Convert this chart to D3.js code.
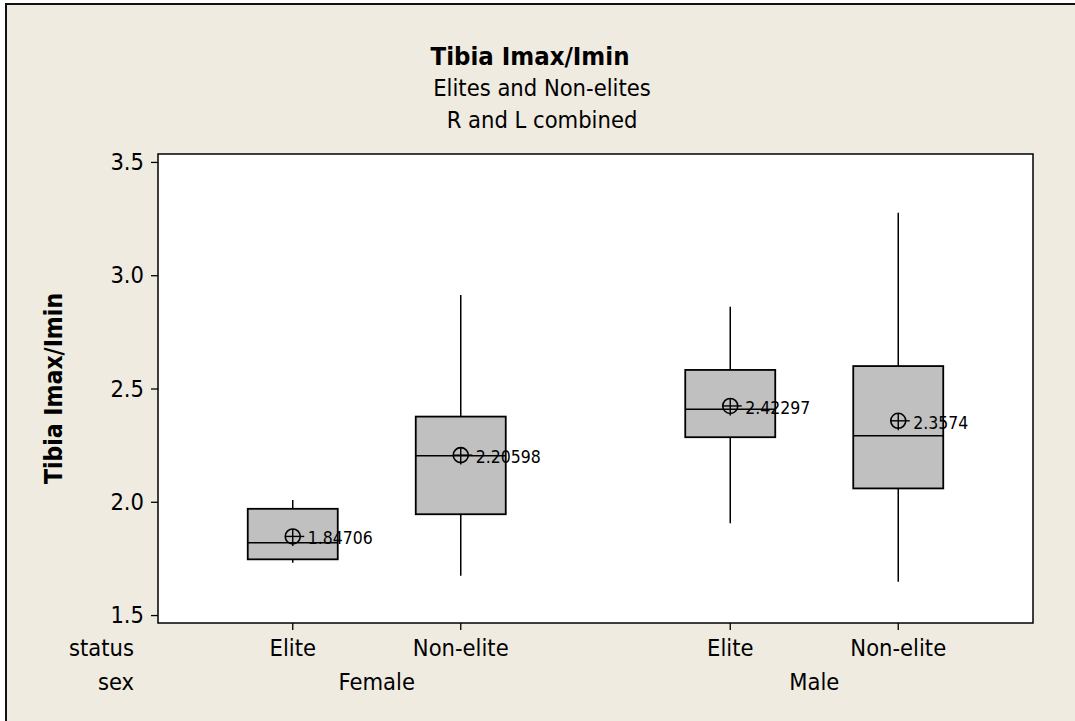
<!doctype html>
<html lang="en">
<head>
<meta charset="utf-8">
<title>Tibia Imax/Imin</title>
<style>
  body { margin: 0; background: #fff; }
  svg text { font-family: "DejaVu Sans Condensed", "DejaVu Sans", sans-serif; font-stretch: condensed; fill: #000; }
</style>
</head>
<body>
<svg id="chart" width="1075" height="721"></svg>
<script src="https://d3js.org/d3.v7.min.js"></script>
<script>

  // values
  var sexGroups = ["Female", "Male"];
  var statusGroups = ["Elite", "Non-elite"];
  var sexOf = ["Female", "Female", "Male", "Male"];
  var statusOf = ["Elite", "Non-elite", "Elite", "Non-elite"];
  var whiskerLow = [1.731, 1.674, 1.905, 1.647];
  var q1 = [1.746, 1.945, 2.285, 2.059];
  var median = [1.819, 2.203, 2.408, 2.292];
  var q3 = [1.969, 2.376, 2.582, 2.599];
  var whiskerHigh = [2.008, 2.913, 2.861, 3.276];
  var means = [1.84706, 2.20598, 2.42297, 2.3574];
  var meanLabels = ["1.84706", "2.20598", "2.42297", "2.3574"];
  var yTicks = [1.5, 2.0, 2.5, 3.0, 3.5];

  var titleLines = ["Tibia Imax/Imin", "Elites and Non-elites", "R and L combined"];
  var yLabel = "Tibia Imax/Imin";

  var svg = d3.select("#chart");

  var plot = { left: 158, right: 1033, top: 154, bottom: 623 };

  // figure region
  svg.append("rect")
    .attr("x", 6).attr("y", 4)
    .attr("width", 1100).attr("height", 740)
    .attr("fill", "#efebe1")
    .attr("stroke", "#111")
    .attr("stroke-width", 2);

  // plot region
  svg.append("rect")
    .attr("x", plot.left).attr("y", plot.top)
    .attr("width", plot.right - plot.left)
    .attr("height", plot.bottom - plot.top)
    .attr("fill", "#fff");

  var y = d3.scaleLinear()
    .domain([1.465, 3.535])
    .range([plot.bottom, plot.top]);

  var xSex = d3.scalePoint()
    .domain(sexGroups)
    .range([plot.left, plot.right])
    .padding(0.5);

  var boxStep = 168;
  var xStatus = d3.scalePoint()
    .domain(statusGroups)
    .range([-boxStep / 2, boxStep / 2]);

  function xPos(i) { return xSex(sexOf[i]) + xStatus(statusOf[i]); }

  var halfW = 45;
  var idx = d3.range(sexOf.length);

  // whiskers
  var g = svg.append("g");
  g.selectAll("line.whisk-hi")
    .data(idx).join("line")
    .attr("class", "whisk-hi")
    .attr("x1", xPos).attr("x2", xPos)
    .attr("y1", i => y(q3[i])).attr("y2", i => y(whiskerHigh[i]))
    .attr("stroke", "#000").attr("stroke-width", 1.5);

  g.selectAll("line.whisk-lo")
    .data(idx).join("line")
    .attr("class", "whisk-lo")
    .attr("x1", xPos).attr("x2", xPos)
    .attr("y1", i => y(q1[i])).attr("y2", i => y(whiskerLow[i]))
    .attr("stroke", "#000").attr("stroke-width", 1.5);

  // boxes
  g.selectAll("rect.box")
    .data(idx).join("rect")
    .attr("class", "box")
    .attr("x", i => xPos(i) - halfW)
    .attr("y", i => y(q3[i]))
    .attr("width", halfW * 2)
    .attr("height", i => y(q1[i]) - y(q3[i]))
    .attr("fill", "#c0c0c0")
    .attr("stroke", "#000")
    .attr("stroke-width", 1.8);

  g.selectAll("line.median")
    .data(idx).join("line")
    .attr("class", "median")
    .attr("x1", i => xPos(i) - halfW).attr("x2", i => xPos(i) + halfW)
    .attr("y1", i => y(median[i])).attr("y2", i => y(median[i]))
    .attr("stroke", "#000").attr("stroke-width", 1.5);

  // mean symbols
  var r = 7.5;
  var mean = g.selectAll("g.mean")
    .data(idx).join("g")
    .attr("class", "mean")
    .attr("transform", i => "translate(" + xPos(i) + "," + y(means[i]) + ")");

  mean.append("circle")
    .attr("r", r).attr("fill", "none")
    .attr("stroke", "#000").attr("stroke-width", 1.6);
  mean.append("line")
    .attr("x1", -r).attr("x2", r + 4).attr("y1", 0).attr("y2", 0)
    .attr("stroke", "#000").attr("stroke-width", 1.4);
  mean.append("line")
    .attr("x1", 0).attr("x2", 0).attr("y1", -r).attr("y2", r + 2)
    .attr("stroke", "#000").attr("stroke-width", 1.4);
  mean.append("text")
    .attr("x", 15).attr("y", 8)
    .attr("font-size", 17.5)
    .text(i => meanLabels[i]);

  // plot border
  svg.append("rect")
    .attr("x", plot.left).attr("y", plot.top)
    .attr("width", plot.right - plot.left)
    .attr("height", plot.bottom - plot.top)
    .attr("fill", "none")
    .attr("stroke", "#000")
    .attr("stroke-width", 1.5);

  // y axis
  var yAxis = svg.append("g")
    .attr("transform", "translate(" + plot.left + ",0)")
    .call(d3.axisLeft(y).tickValues(yTicks).tickFormat(d3.format(".1f")).tickSize(7).tickPadding(7));
  yAxis.select(".domain").remove();
  yAxis.selectAll("line").attr("stroke", "#000").attr("stroke-width", 1.3);
  yAxis.selectAll("text").attr("font-size", 23.5).attr("font-family", null);

  // x ticks and category labels
  svg.append("g").selectAll("line")
    .data(idx).join("line")
    .attr("x1", xPos).attr("x2", xPos)
    .attr("y1", plot.bottom).attr("y2", plot.bottom + 7)
    .attr("stroke", "#000").attr("stroke-width", 1.3);

  svg.append("g").selectAll("text")
    .data(idx).join("text")
    .attr("x", xPos).attr("y", 656)
    .attr("text-anchor", "middle")
    .attr("font-size", 23.5)
    .text(i => statusOf[i]);

  svg.append("g").selectAll("text")
    .data(sexGroups).join("text")
    .attr("x", d => xSex(d)).attr("y", 690)
    .attr("text-anchor", "middle")
    .attr("font-size", 23.5)
    .text(d => d);

  svg.append("text").attr("x", 134).attr("y", 656)
    .attr("text-anchor", "end").attr("font-size", 23.5).text("status");
  svg.append("text").attr("x", 134).attr("y", 690)
    .attr("text-anchor", "end").attr("font-size", 23.5).text("sex");

  // titles
  svg.append("text")
    .attr("x", 530).attr("y", 65)
    .attr("text-anchor", "middle")
    .attr("font-size", 25.5).attr("font-weight", "bold")
    .text(titleLines[0]);
  svg.append("text")
    .attr("x", 542).attr("y", 96)
    .attr("text-anchor", "middle")
    .attr("font-size", 23.5)
    .text(titleLines[1]);
  svg.append("text")
    .attr("x", 542).attr("y", 128)
    .attr("text-anchor", "middle")
    .attr("font-size", 23.5)
    .text(titleLines[2]);

  svg.append("text")
    .attr("transform", "translate(62," + ((plot.top + plot.bottom) / 2) + ") rotate(-90)")
    .attr("text-anchor", "middle")
    .attr("font-size", 24.5).attr("font-weight", "bold")
    .text(yLabel);

</script>
</body>
</html>
